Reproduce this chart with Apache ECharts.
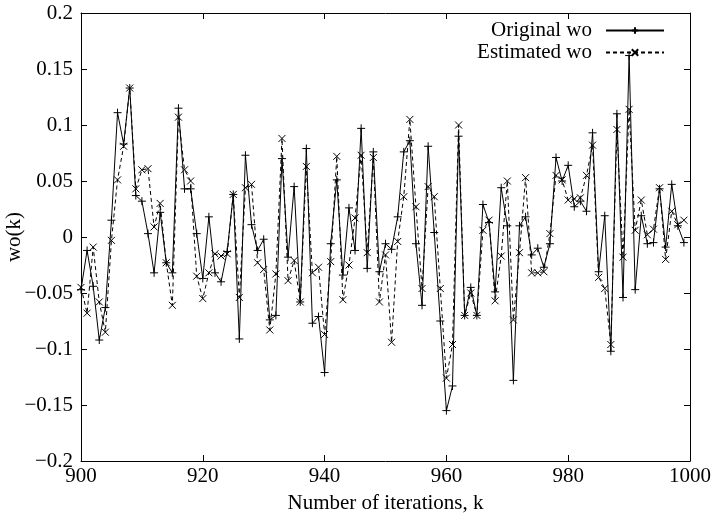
<!DOCTYPE html>
<html><head><meta charset="utf-8">
<script src="https://cdn.jsdelivr.net/npm/echarts@6/dist/echarts.min.js"></script>
<style>html,body{margin:0;padding:0;background:#fff}#c{width:714px;height:519px}</style>
</head><body><div id="c"></div>
<script>
const startK = 900;
const original = [
-0.047,-0.012,-0.044,-0.092,-0.063,0.015,0.111,0.083,0.133,0.037,
0.032,0.003,-0.032,0.022,-0.023,-0.032,0.115,0.043,0.043,0.003,
-0.037,0.018,-0.032,-0.040,-0.013,0.038,-0.091,0.073,0.011,-0.012,
-0.002,-0.074,-0.070,0.070,-0.018,0.045,-0.058,0.079,-0.077,-0.071,
-0.121,-0.006,0.051,-0.034,0.026,-0.012,0.097,-0.028,0.076,-0.031,
-0.006,-0.011,0.018,0.076,0.086,-0.006,-0.061,0.081,0.004,-0.075,
-0.155,-0.133,0.090,-0.070,-0.045,-0.070,0.029,0.013,-0.049,0.044,
0.010,-0.128,0.010,0.018,-0.016,-0.010,-0.027,-0.006,0.071,0.050,
0.064,0.027,0.032,0.023,0.093,-0.031,0.019,-0.102,0.110,-0.054,
0.162,-0.047,0.019,-0.006,-0.005,0.043,-0.009,0.047,0.010,-0.005
];
const estimated = [
-0.045,-0.068,-0.009,-0.058,-0.085,-0.003,0.051,0.081,0.133,0.043,
0.060,0.061,0.009,0.030,-0.023,-0.061,0.107,0.060,0.050,-0.035,
-0.055,-0.032,-0.015,-0.017,-0.015,0.038,-0.054,0.044,0.047,-0.023,
-0.029,-0.083,-0.033,0.088,-0.039,-0.021,-0.058,0.063,-0.032,-0.027,
-0.087,-0.022,0.072,-0.056,-0.025,0.017,0.073,-0.014,0.071,-0.058,
-0.016,-0.094,-0.004,0.036,0.105,0.027,-0.046,0.045,0.036,-0.046,
-0.126,-0.096,0.100,-0.070,-0.050,-0.070,0.006,0.015,-0.057,-0.017,
0.050,-0.074,-0.014,0.053,-0.032,-0.032,-0.031,0.003,0.055,0.051,
0.033,0.034,0.035,0.055,0.082,-0.036,-0.046,-0.096,0.096,-0.018,
0.114,0.006,0.033,0.002,0.007,0.044,-0.020,0.023,0.011,0.015
];
const xTicks = [900, 920, 940, 960, 980, 1000];
const yTicks = [-0.2, -0.15, -0.1, -0.05, 0, 0.05, 0.1, 0.15, 0.2];

const FONT = '"Liberation Serif", "Times New Roman", serif';
const FS = 21;
const plus = 'path://M5 0L5 10M0 5L10 5';
const cross = 'path://M0 0L10 10M10 0L0 10';
const toPairs = arr => arr.map((v, i) => [startK + i, v]);
const fmtY = v => {
  const r = Math.round(v * 100) / 100;
  if (r === 0) return '0';
  return (r < 0 ? '\u2212' : '') + String(Math.abs(r));
};
const fmtX = v => String(Math.round(v));
const axisCommon = {
  axisLine: { show: true, onZero: false, lineStyle: { color: '#000', width: 1 } },
  axisTick: { show: true, inside: true, length: 6, lineStyle: { color: '#000' } },
  splitLine: { show: false }
};
const chart = echarts.init(document.getElementById('c'), null, { renderer: 'canvas' });
chart.setOption({
  animation: false,
  backgroundColor: '#fff',
  grid: { left: 81, right: 24, top: 13, bottom: 58, containLabel: false, outerBoundsMode: 'none' },
  legend: {
    orient: 'vertical', right: 49, top: 20, align: 'right', padding: 0,
    itemWidth: 58, itemHeight: 8, itemGap: 1,
    textStyle: { fontFamily: FONT, fontSize: FS, lineHeight: 21, color: '#000', padding: [0, 9, 0, 0] },
    data: ['Original wo', 'Estimated wo']
  },
  xAxis: [
    Object.assign({}, axisCommon, {
      type: 'value', min: xTicks[0], max: xTicks[xTicks.length - 1], interval: 20, position: 'bottom',
      axisLabel: { fontFamily: FONT, fontSize: FS, color: '#000', margin: 5, formatter: fmtX },
      name: 'Number of iterations, k', nameLocation: 'middle', nameGap: 32,
      nameTextStyle: { fontFamily: FONT, fontSize: FS, color: '#000' }
    }),
    Object.assign({}, axisCommon, {
      type: 'value', min: xTicks[0], max: xTicks[xTicks.length - 1], interval: 20, position: 'top',
      axisLabel: { show: false }
    })
  ],
  yAxis: [
    Object.assign({}, axisCommon, {
      type: 'value', min: yTicks[0], max: yTicks[yTicks.length - 1], interval: 0.05, position: 'left',
      axisLabel: { fontFamily: FONT, fontSize: FS, color: '#000', margin: 8, formatter: fmtY },
      name: 'wo(k)', nameLocation: 'middle', nameGap: 56, nameRotate: 90, nameMoveOverlap: false,
      nameTextStyle: { fontFamily: FONT, fontSize: FS, color: '#000' }
    }),
    Object.assign({}, axisCommon, {
      type: 'value', min: yTicks[0], max: yTicks[yTicks.length - 1], interval: 0.05, position: 'right',
      axisLabel: { show: false }
    })
  ],
  series: [
    {
      name: 'Original wo', type: 'line', data: toPairs(original),
      symbol: plus, symbolSize: 8, showSymbol: true,
      lineStyle: { color: '#000', width: 1, type: 'solid' },
      itemStyle: { color: 'rgba(0,0,0,0)', borderColor: '#000', borderWidth: 1 }
    },
    {
      name: 'Estimated wo', type: 'line', data: toPairs(estimated),
      symbol: cross, symbolSize: 7, showSymbol: true,
      lineStyle: { color: '#000', width: 1, type: [4, 3] },
      itemStyle: { color: 'rgba(0,0,0,0)', borderColor: '#000', borderWidth: 1 }
    }
  ]
});
</script></body></html>
